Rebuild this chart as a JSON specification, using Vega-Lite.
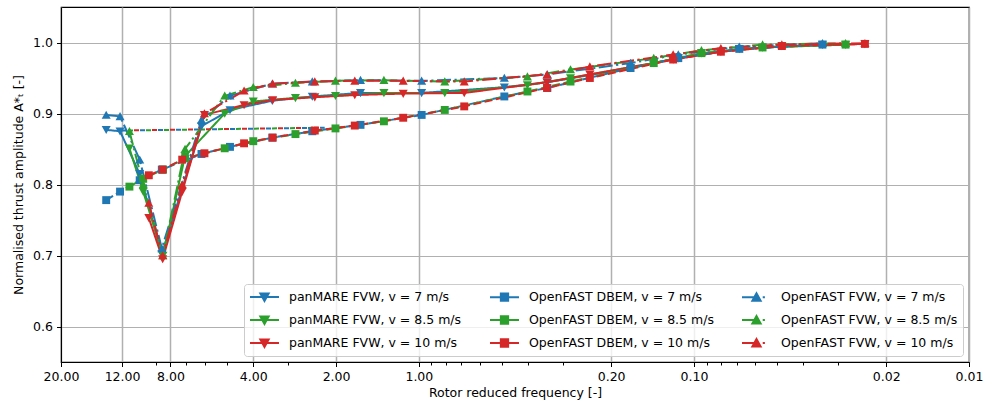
{
  "$schema": "https://vega.github.io/schema/vega-lite/v6.json",
  "width": 908,
  "height": 355,
  "autosize": {"type": "none"},
  "padding": {"left": 61, "top": 7, "right": 14, "bottom": 46},
  "config": {
    "font": "DejaVu Sans",
    "view": {"stroke": "black", "strokeWidth": 1.2},
    "axis": {
      "labelFontSize": 12.5, "titleFontSize": 12.5, "titleFontWeight": "normal",
      "labelColor": "black", "titleColor": "black", "tickColor": "black",
      "domainColor": "black", "gridColor": "#b0b0b0", "labelFont": "DejaVu Sans", "titleFont": "DejaVu Sans"
    }
  },
  "datasets": {
    "main": [
      {"s":"P7","k":13.7,"a":0.877},{"s":"P7","k":12.2,"a":0.875},{"s":"P7","k":10.35,"a":0.815},{"s":"P7","k":8.6,"a":0.702},{"s":"P7","k":6.17,"a":0.882},{"s":"P7","k":4.86,"a":0.905},{"s":"P7","k":3.41,"a":0.918},{"s":"P7","k":2.44,"a":0.924},{"s":"P7","k":1.63,"a":0.929},{"s":"P7","k":0.977,"a":0.929},{"s":"P7","k":0.489,"a":0.937},{"s":"P7","k":0.341,"a":0.944},{"s":"P7","k":0.17,"a":0.964},{"s":"P7","k":0.114,"a":0.978},{"s":"P7","k":0.0684,"a":0.991},{"s":"P7","k":0.0341,"a":0.997},
      {"s":"P8","k":11.28,"a":0.851},{"s":"P8","k":10.05,"a":0.79},{"s":"P8","k":8.52,"a":0.70},{"s":"P8","k":7.08,"a":0.84},{"s":"P8","k":5.08,"a":0.90},{"s":"P8","k":4.0,"a":0.917},{"s":"P8","k":2.81,"a":0.922},{"s":"P8","k":2.01,"a":0.925},{"s":"P8","k":1.34,"a":0.929},{"s":"P8","k":0.805,"a":0.929},{"s":"P8","k":0.403,"a":0.94},{"s":"P8","k":0.281,"a":0.95},{"s":"P8","k":0.14,"a":0.971},{"s":"P8","k":0.0939,"a":0.985},{"s":"P8","k":0.0563,"a":0.993},{"s":"P8","k":0.0281,"a":0.997},
      {"s":"P10","k":9.59,"a":0.753},{"s":"P10","k":8.54,"a":0.695},{"s":"P10","k":7.25,"a":0.79},{"s":"P10","k":6.02,"a":0.898},{"s":"P10","k":4.32,"a":0.912},{"s":"P10","k":3.4,"a":0.919},{"s":"P10","k":2.39,"a":0.923},{"s":"P10","k":1.71,"a":0.926},{"s":"P10","k":1.14,"a":0.928},{"s":"P10","k":0.684,"a":0.929},{"s":"P10","k":0.342,"a":0.944},{"s":"P10","k":0.239,"a":0.955},{"s":"P10","k":0.119,"a":0.976},{"s":"P10","k":0.0798,"a":0.987},{"s":"P10","k":0.0479,"a":0.995},{"s":"P10","k":0.0239,"a":0.998},
      {"s":"D7","k":13.7,"a":0.778},{"s":"D7","k":12.2,"a":0.79},{"s":"D7","k":10.35,"a":0.806},{"s":"D7","k":8.6,"a":0.821},{"s":"D7","k":6.17,"a":0.843},{"s":"D7","k":4.86,"a":0.853},{"s":"D7","k":3.41,"a":0.866},{"s":"D7","k":2.44,"a":0.875},{"s":"D7","k":1.63,"a":0.884},{"s":"D7","k":0.977,"a":0.898},{"s":"D7","k":0.489,"a":0.924},{"s":"D7","k":0.341,"a":0.936},{"s":"D7","k":0.17,"a":0.964},{"s":"D7","k":0.114,"a":0.978},{"s":"D7","k":0.0684,"a":0.991},{"s":"D7","k":0.0341,"a":0.997},
      {"s":"D8","k":11.28,"a":0.797},{"s":"D8","k":10.05,"a":0.808},{"s":"D8","k":8.52,"a":0.821},{"s":"D8","k":7.08,"a":0.837},{"s":"D8","k":5.08,"a":0.851},{"s":"D8","k":4.0,"a":0.861},{"s":"D8","k":2.81,"a":0.871},{"s":"D8","k":2.01,"a":0.879},{"s":"D8","k":1.34,"a":0.889},{"s":"D8","k":0.805,"a":0.905},{"s":"D8","k":0.403,"a":0.931},{"s":"D8","k":0.281,"a":0.945},{"s":"D8","k":0.14,"a":0.971},{"s":"D8","k":0.0939,"a":0.985},{"s":"D8","k":0.0563,"a":0.993},{"s":"D8","k":0.0281,"a":0.997},
      {"s":"D10","k":9.59,"a":0.813},{"s":"D10","k":8.54,"a":0.821},{"s":"D10","k":7.25,"a":0.835},{"s":"D10","k":6.02,"a":0.844},{"s":"D10","k":4.32,"a":0.858},{"s":"D10","k":3.4,"a":0.866},{"s":"D10","k":2.39,"a":0.876},{"s":"D10","k":1.71,"a":0.883},{"s":"D10","k":1.14,"a":0.894},{"s":"D10","k":0.684,"a":0.91},{"s":"D10","k":0.342,"a":0.936},{"s":"D10","k":0.239,"a":0.95},{"s":"D10","k":0.119,"a":0.976},{"s":"D10","k":0.0798,"a":0.987},{"s":"D10","k":0.0479,"a":0.995},{"s":"D10","k":0.0239,"a":0.998},
      {"s":"X7","k":12.0,"a":0.876},{"s":"X7","k":2.2,"a":0.880},
      {"s":"X8","k":12.0,"a":0.876},{"s":"X8","k":2.2,"a":0.880},
      {"s":"X10","k":12.0,"a":0.876},{"s":"X10","k":2.2,"a":0.880},
      {"s":"F7","k":13.7,"a":0.898},{"s":"F7","k":12.2,"a":0.896},{"s":"F7","k":10.35,"a":0.835},{"s":"F7","k":8.6,"a":0.71},{"s":"F7","k":6.17,"a":0.891},{"s":"F7","k":4.86,"a":0.925},{"s":"F7","k":3.41,"a":0.942},{"s":"F7","k":2.44,"a":0.945},{"s":"F7","k":1.63,"a":0.947},{"s":"F7","k":0.977,"a":0.946},{"s":"F7","k":0.489,"a":0.95},{"s":"F7","k":0.341,"a":0.955},{"s":"F7","k":0.17,"a":0.971},{"s":"F7","k":0.114,"a":0.983},{"s":"F7","k":0.0684,"a":0.994},{"s":"F7","k":0.0341,"a":0.999},
      {"s":"F8","k":11.28,"a":0.875},{"s":"F8","k":10.05,"a":0.80},{"s":"F8","k":8.52,"a":0.70},{"s":"F8","k":7.08,"a":0.85},{"s":"F8","k":5.08,"a":0.925},{"s":"F8","k":4.0,"a":0.937},{"s":"F8","k":2.81,"a":0.943},{"s":"F8","k":2.01,"a":0.946},{"s":"F8","k":1.34,"a":0.947},{"s":"F8","k":0.805,"a":0.945},{"s":"F8","k":0.403,"a":0.952},{"s":"F8","k":0.281,"a":0.962},{"s":"F8","k":0.14,"a":0.978},{"s":"F8","k":0.0939,"a":0.989},{"s":"F8","k":0.0563,"a":0.997},{"s":"F8","k":0.0281,"a":0.999},
      {"s":"F10","k":9.59,"a":0.774},{"s":"F10","k":8.54,"a":0.70},{"s":"F10","k":7.25,"a":0.80},{"s":"F10","k":6.02,"a":0.90},{"s":"F10","k":4.32,"a":0.932},{"s":"F10","k":3.4,"a":0.942},{"s":"F10","k":2.39,"a":0.945},{"s":"F10","k":1.71,"a":0.946},{"s":"F10","k":1.14,"a":0.946},{"s":"F10","k":0.684,"a":0.945},{"s":"F10","k":0.342,"a":0.955},{"s":"F10","k":0.239,"a":0.966},{"s":"F10","k":0.119,"a":0.983},{"s":"F10","k":0.0798,"a":0.992},{"s":"F10","k":0.0479,"a":0.997},{"s":"F10","k":0.0239,"a":0.999}
    ]
  },
  "resolve": {"axis": {"x": "independent"}},
  "layer": [
    {
      "data": {"name": "main"},
      "mark": {"type": "line", "strokeWidth": 2},
      "encoding": {
        "x": {"field": "k", "type": "quantitative",
          "scale": {"type": "log", "domain": [0.01, 20], "reverse": true, "nice": false},
          "axis": {"orient": "bottom", "values": [20, 12, 8, 4, 2, 1, 0.2, 0.1, 0.02, 0.01], "format": ".2f",
            "title": "Rotor reduced frequency [-]", "grid": true, "gridWidth": 1.5, "tickSize": 4.5, "labelPadding": 4, "titlePadding": 3, "labelFlush": false}},
        "y": {"field": "a", "type": "quantitative",
          "scale": {"domain": [0.55, 1.05], "nice": false, "zero": false},
          "axis": {"values": [0.6, 0.7, 0.8, 0.9, 1.0], "format": ".1f", "title": "Normalised thrust amplitude A*ₜ [-]",
            "grid": true, "gridWidth": 1.2, "tickSize": 4.5, "labelPadding": 4, "titlePadding": 7}},
        "color": {"field": "s", "type": "nominal", "legend": null,
          "scale": {"domain": ["P7","P8","P10","D7","D8","D10","F7","F8","F10","X7","X8","X10"],
            "range": ["#1f77b4","#2ca02c","#d62728","#1f77b4","#2ca02c","#d62728","#1f77b4","#2ca02c","#d62728","#1f77b4","#2ca02c","#d62728"]}},
        "strokeDash": {"field": "s", "type": "nominal", "legend": null,
          "scale": {"domain": ["P7","P8","P10","D7","D8","D10","F7","F8","F10","X7","X8","X10"],
            "range": [[1,0],[1,0],[1,0],[8,3.5],[8,3.5],[8,3.5],[14,3.5,2.2,3.5],[14,3.5,2.2,3.5],[14,3.5,2.2,3.5],[5,13],[0,6,5,7],[0,12,5,1]]}}
      }
    },
    {
      "data": {"name": "main"},
      "transform": [{"filter": "datum.s[0] == 'P'"}],
      "mark": {"type": "point", "filled": true, "size": 81, "opacity": 1, "shape": "M-1,-0.85H1L0,0.95Z"},
      "encoding": {
        "x": {"field": "k", "type": "quantitative", "axis": null},
        "y": {"field": "a", "type": "quantitative"},
        "color": {"field": "s", "type": "nominal", "legend": null}
      }
    },
    {
      "data": {"name": "main"},
      "transform": [{"filter": "datum.s[0] == 'D'"}],
      "mark": {"type": "point", "filled": true, "size": 81, "opacity": 1, "shape": "M-0.88,-0.88H0.88V0.88H-0.88Z"},
      "encoding": {
        "x": {"field": "k", "type": "quantitative", "axis": null},
        "y": {"field": "a", "type": "quantitative"},
        "color": {"field": "s", "type": "nominal", "legend": null}
      }
    },
    {
      "data": {"name": "main"},
      "transform": [{"filter": "datum.s[0] == 'F'"}],
      "mark": {"type": "point", "filled": true, "size": 81, "opacity": 1, "shape": "M-1,0.85H1L0,-0.95Z"},
      "encoding": {
        "x": {"field": "k", "type": "quantitative", "axis": null},
        "y": {"field": "a", "type": "quantitative"},
        "color": {"field": "s", "type": "nominal", "legend": null}
      }
    },
    {
      "data": {"name": "main"},
      "transform": [{"filter": "false"}],
      "mark": {"type": "point", "strokeWidth": 2, "opacity": 1},
      "encoding": {
        "x": {"field": "k", "type": "quantitative", "axis": null},
        "y": {"field": "a", "type": "quantitative"},
        "fill": {"field": "s", "type": "nominal",
          "scale": {"domain": ["P7","P8","P10","D7","D8","D10","F7","F8","F10"],
            "range": ["#1f77b4","#2ca02c","#d62728","#1f77b4","#2ca02c","#d62728","#1f77b4","#2ca02c","#d62728"]},
          "legend": {"title": null}},
        "stroke": {"field": "s", "type": "nominal",
          "scale": {"domain": ["P7","P8","P10","D7","D8","D10","F7","F8","F10"],
            "range": ["#1f77b4","#2ca02c","#d62728","#1f77b4","#2ca02c","#d62728","#1f77b4","#2ca02c","#d62728"]},
          "legend": {"title": null}},
        "shape": {"field": "s", "type": "nominal",
          "scale": {"domain": ["P7","P8","P10","D7","D8","D10","F7","F8","F10"],
            "range": ["M-1,0H3.14M0.48,-0.5H1.66L1.07,0.55Z","M-1,0H3.14M0.48,-0.5H1.66L1.07,0.55Z","M-1,0H3.14M0.48,-0.5H1.66L1.07,0.55Z",
              "M-1,0H3.14M0.55,-0.52H1.59V0.52H0.55Z","M-1,0H3.14M0.55,-0.52H1.59V0.52H0.55Z","M-1,0H3.14M0.55,-0.52H1.59V0.52H0.55Z",
              "M-1,0H1.39M1.96,0H2.27M0.48,0.5H1.66L1.07,-0.55Z","M-1,0H1.39M1.96,0H2.27M0.48,0.5H1.66L1.07,-0.55Z","M-1,0H1.39M1.96,0H2.27M0.48,0.5H1.66L1.07,-0.55Z"]},
          "legend": {
            "title": null, "orient": "bottom-right", "offset": 6, "columns": 3, "columnPadding": 24, "rowPadding": 7,
            "padding": 5, "symbolSize": 196, "symbolStrokeWidth": 2, "symbolOpacity": 1,
            "labelFontSize": 12.5, "labelFont": "DejaVu Sans", "labelColor": "black", "labelOffset": 24, "labelLimit": 300,
            "fillColor": "rgba(255,255,255,0.8)", "strokeColor": "#cccccc", "cornerRadius": 3,
            "labelExpr": "{'P7':'panMARE FVW, v = 7 m/s','P8':'panMARE FVW, v = 8.5 m/s','P10':'panMARE FVW, v = 10 m/s','D7':'OpenFAST DBEM, v = 7 m/s','D8':'OpenFAST DBEM, v = 8.5 m/s','D10':'OpenFAST DBEM, v = 10 m/s','F7':'OpenFAST FVW, v = 7 m/s','F8':'OpenFAST FVW, v = 8.5 m/s','F10':'OpenFAST FVW, v = 10 m/s'}[datum.value]"
          }}
      }
    },
    {
      "mark": {"type": "rule", "color": "black", "strokeWidth": 2, "strokeDash": [2, 2]},
      "encoding": {
        "x": {"datum": 8.59, "type": "quantitative",
          "axis": {"orient": "bottom", "values": [9, 7, 6, 5, 3, 0.9, 0.8, 0.7, 0.6, 0.5, 0.4, 0.3, 0.09, 0.08, 0.07, 0.06, 0.05, 0.04, 0.03],
            "labels": false, "grid": false, "domain": false, "tickSize": 3, "title": null}}
      }
    },
    {
      "mark": {"type": "rule", "color": "black", "strokeWidth": 2},
      "encoding": {"y": {"datum": 1.0, "type": "quantitative"}}
    }
  ]
}
